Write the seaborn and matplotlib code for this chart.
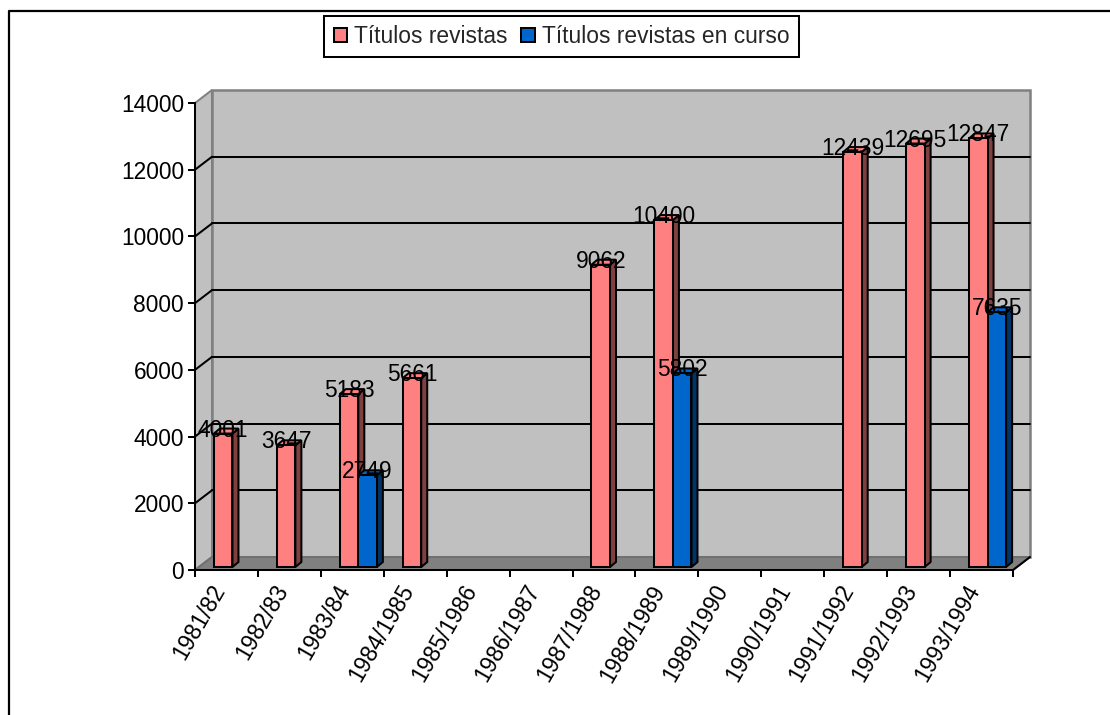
import numpy as np
import pandas as pd
import seaborn as sns
import matplotlib
matplotlib.use('Agg')
import matplotlib.pyplot as plt
from matplotlib.lines import Line2D
from matplotlib.patches import Polygon
from matplotlib.transforms import IdentityTransform, Affine2D

# Datos
cursos = ['1981/82', '1982/83', '1983/84', '1984/1985', '1985/1986', '1986/1987', '1987/1988',
          '1988/1989', '1989/1990', '1990/1991', '1991/1992', '1992/1993', '1993/1994']
titulos = [4001, 3647, 5183, 5661, None, None, 9062, 10400, None, None, 12439, 12695, 12847]
en_curso = [None, None, 2749, None, None, None, None, 5802, None, None, None, None, 7635]
nombres = ['Títulos revistas', 'Títulos revistas en curso']
yticks = [0, 2000, 4000, 6000, 8000, 10000, 12000, 14000]

df = pd.DataFrame({'curso': cursos, nombres[0]: titulos, nombres[1]: en_curso})
df = df.melt(id_vars='curso', var_name='serie', value_name='valor')
df['valor'] = pd.to_numeric(df['valor'])

sns.set_theme(style='white')
plt.rcParams['font.family'] = ['Liberation Sans', 'DejaVu Sans']

W, H = 1110, 715
LW = 1.45
FS = 16.4
fig = plt.figure(figsize=(W / 100, H / 100), dpi=100)
ax = fig.add_axes([195 / W, 1 - 570 / H, 818 / W, 467 / H])
ax.patch.set_visible(False)

sns.barplot(data=df, x='curso', y='valor', hue='serie', order=cursos, hue_order=nombres,
            palette=['#FF8080', '#0066CC'], saturation=1, width=0.59, gap=0,
            edgecolor='black', linewidth=LW, ax=ax)
ax.set_xlim(-0.5, 12.5)
ax.set_ylim(0, 14000)
ax.set_xlabel('')
ax.set_ylabel('')


# pasa de datos a pixeles, con desplazamiento de profundidad
def px(x, y, dx=0, dy=0):
    a = ax.transData.transform((x, y))
    return (a[0] + dx, a[1] + dy)


def poly(puntos, color, edge='black', lw=LW, z=1):
    ax.add_patch(Polygon(puntos, closed=True, facecolor=color, edgecolor=edge, linewidth=lw,
                         joinstyle='miter', transform=IdentityTransform(), clip_on=False, zorder=z))


def linea(a, b, color='black', lw=LW, z=1.5):
    ax.add_line(Line2D([a[0], b[0]], [a[1], b[1]], color=color, linewidth=lw,
                       transform=IdentityTransform(), clip_on=False, zorder=z))


# Paredes y suelo
PX, PY = 17, 13
x0, x1 = -0.5, 12.5
poly([px(x0, 0), px(x0, 14000), px(x0, 14000, PX, PY), px(x0, 0, PX, PY)], '#C0C0C0', edge='#808080')
poly([px(x0, 0, PX, PY), px(x0, 14000, PX, PY), px(x1, 14000, PX, PY), px(x1, 0, PX, PY)],
     '#C0C0C0', edge='#808080', lw=1.8)
for v in yticks[1:-1]:
    linea(px(x0, v), px(x0, v, PX, PY))
    linea(px(x0, v, PX, PY), px(x1, v, PX, PY))
poly([px(x0, 0), px(x0, 0, PX, PY), px(x1, 0, PX, PY), px(x1, 0)], '#808080', edge='#707070', z=1.6)
linea(px(x1, 0), px(x1, 0, PX, PY), z=1.7)

# Barras con caras laterales
BX, BY = 6, 3
DX, DY = 6, 5
tr = ax.transData + Affine2D().translate(BX, BY)
oscuro = {'#ff8080': '#804040', '#0066cc': '#003366'}
barras = [p for p in ax.patches if isinstance(p, matplotlib.patches.Rectangle) and p.get_height() > 0]
barras = sorted(barras, key=lambda p: p.get_x())
for i, p in enumerate(barras):
    z = 3 + i * 0.01
    a, b = p.get_x(), p.get_x() + p.get_width()
    h = p.get_height()
    color = matplotlib.colors.to_hex(p.get_facecolor())
    p.set_transform(tr)
    p.set_zorder(z + 0.002)
    p.set_clip_on(False)
    poly([px(b, 0, BX, BY), px(b, h, BX, BY), px(b, h, BX + DX, BY + DY), px(b, 0, BX + DX, BY + DY)],
         oscuro[color], z=z)
    poly([px(a, h, BX, BY), px(b, h, BX, BY), px(b, h, BX + DX, BY + DY), px(a, h, BX + DX, BY + DY)],
         color, z=z + 0.001)

# Etiquetas de valor
for p in barras:
    cx, cy = px(p.get_x() + p.get_width() / 2, p.get_height(), BX, BY + 3.5)
    ax.text(cx, cy, str(int(p.get_height())), transform=IdentityTransform(), ha='center', va='center',
            fontsize=FS, color='black', zorder=6, clip_on=False)

# Ejes
for s in ['top', 'right']:
    ax.spines[s].set_visible(False)
for s in ['left', 'bottom']:
    ax.spines[s].set_visible(True)
    ax.spines[s].set_color('black')
    ax.spines[s].set_linewidth(LW)
    ax.spines[s].set_zorder(2)
ax.set_yticks(yticks)
ax.set_yticklabels([str(v) for v in yticks], fontsize=FS, color='black')
ax.set_xticks(np.arange(-0.5, 13))
ax.set_xticklabels([''] * 14)
ax.set_xticks(range(13), minor=True)
ax.set_xticklabels(cursos, minor=True, rotation=60, ha='right', va='center', rotation_mode='anchor',
                   fontsize=FS, color='black')
ax.tick_params(axis='both', which='major', length=5, width=LW, color='black', left=True, bottom=True, pad=3)
ax.tick_params(axis='x', which='minor', length=0, pad=12, bottom=True)
for t in ax.get_xticklabels(minor=True):
    t.set_transform(t.get_transform() + Affine2D().translate(-7, 0))

# Leyenda
ax.legend_.remove()
handles = [matplotlib.patches.Patch(facecolor=c, edgecolor='black', linewidth=LW) for c in ['#FF8080', '#0066CC']]
fig.legend(handles, nombres, loc='upper center', bbox_to_anchor=(561.5 / W, 1 - 16 / H), ncol=2,
           fontsize=16.4, frameon=True, fancybox=False, framealpha=1, edgecolor='black',
           handlelength=0.6, handleheight=0.6, handletextpad=0.3, columnspacing=0.6,
           borderpad=0.4, borderaxespad=0).get_frame().set_linewidth(LW)

# Marco exterior (recortado a la derecha y abajo)
fig.add_artist(Line2D([9 / W, 9 / W, 1], [0, 1 - 11 / H, 1 - 11 / H], color='black', linewidth=1.6))

fig.savefig('out.png', dpi=100, facecolor='white')
